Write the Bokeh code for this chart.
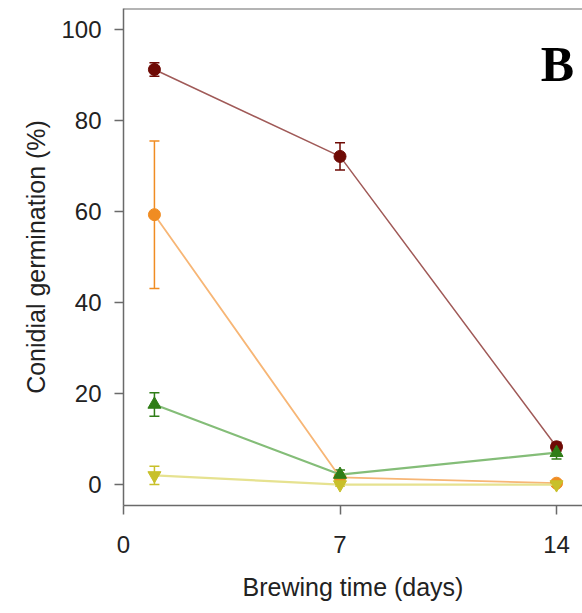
from bokeh.plotting import figure
from bokeh.models import ColumnDataSource, Whisker, TeeHead, Label, Span, FixedTicker, Range1d
from bokeh.embed import file_html
from bokeh.resources import INLINE

days = [1, 7, 14]
s1_mean = [91.2, 72.1, 8.3]
s1_err = [1.5, 3.0, 1.0]
s2_mean = [59.3, 1.6, 0.3]
s2_err = [16.2, 0.5, 0.3]
s3_mean = [17.6, 2.2, 7.0]
s3_err = [2.6, 1.0, 1.4]
s4_mean = [2.0, 0.0, 0.0]
s4_err = [2.0, 0.3, 0.3]

x_ticks = [0, 7, 14]
y_ticks = [0, 20, 40, 60, 80, 100]

p = figure(width=582, height=613, output_backend="svg", toolbar_location=None,
           x_range=Range1d(0, 14.84), y_range=Range1d(-4.6, 104.6),
           min_border_left=123, min_border_right=0, min_border_top=8, min_border_bottom=108)
p.outline_line_color = None
p.grid.visible = False
p.background_fill_color = "white"
p.border_fill_color = "white"

for ax in (p.xaxis[0], p.yaxis[0]):
    ax.axis_line_color = "#6a6a6a"
    ax.axis_line_width = 1.5
    ax.major_tick_line_color = "#6a6a6a"
    ax.major_tick_line_width = 1.5
    ax.major_tick_out = 9
    ax.major_tick_in = 0
    ax.minor_tick_line_color = None
    ax.major_label_text_font = "Liberation Sans"
    ax.major_label_text_font_size = "24px"
    ax.major_label_text_color = "#222222"
    ax.axis_label_text_font = "Liberation Sans"
    ax.axis_label_text_font_size = "25px"
    ax.axis_label_text_font_style = "normal"
    ax.axis_label_text_color = "#222222"

p.xaxis.ticker = FixedTicker(ticks=x_ticks)
p.yaxis.ticker = FixedTicker(ticks=y_ticks)
p.xaxis.axis_label = "Brewing time (days)"
p.yaxis.axis_label = "Conidial germination (%)"
p.xaxis.major_label_standoff = 21
p.xaxis.axis_label_standoff = 17
p.yaxis.major_label_standoff = 13
p.yaxis.axis_label_standoff = 8

top_line = Span(location=104.6, dimension="width", line_color="#6a6a6a", line_width=2)
p.add_layout(top_line)

series = [
    (s1_mean, s1_err, "#6e0a05", "#a05a58", 1.5, "circle", 12),
    (s2_mean, s2_err, "#f08c22", "#f7b676", 1.8, "circle", 12),
    (s3_mean, s3_err, "#2f7d16", "#84bd78", 2.2, "triangle", 13),
    (s4_mean, s4_err, "#c8c02a", "#e6e290", 2.2, "inverted_triangle", 13),
]

for mean, err, mcol, lcol, lw, marker, size in series:
    src = ColumnDataSource(dict(
        x=days, y=mean,
        upper=[m + e for m, e in zip(mean, err)],
        lower=[m - e for m, e in zip(mean, err)],
    ))
    p.line("x", "y", source=src, line_color=lcol, line_width=lw)
    w = Whisker(source=src, base="x", upper="upper", lower="lower", dimension="height",
                line_color=mcol, line_width=1.5,
                upper_head=TeeHead(size=10, line_color=mcol, line_width=1.5),
                lower_head=TeeHead(size=10, line_color=mcol, line_width=1.5))
    p.add_layout(w)
    p.scatter("x", "y", source=src, marker=marker, size=size,
              fill_color=mcol, line_color=mcol)

lbl = Label(x=14.03, y=92.4, text="B", text_font="Liberation Serif",
            text_font_style="bold", text_font_size="50px", text_color="black",
            text_align="center", text_baseline="middle")
p.add_layout(lbl)

open("out.html", "w").write(file_html(p, INLINE))
